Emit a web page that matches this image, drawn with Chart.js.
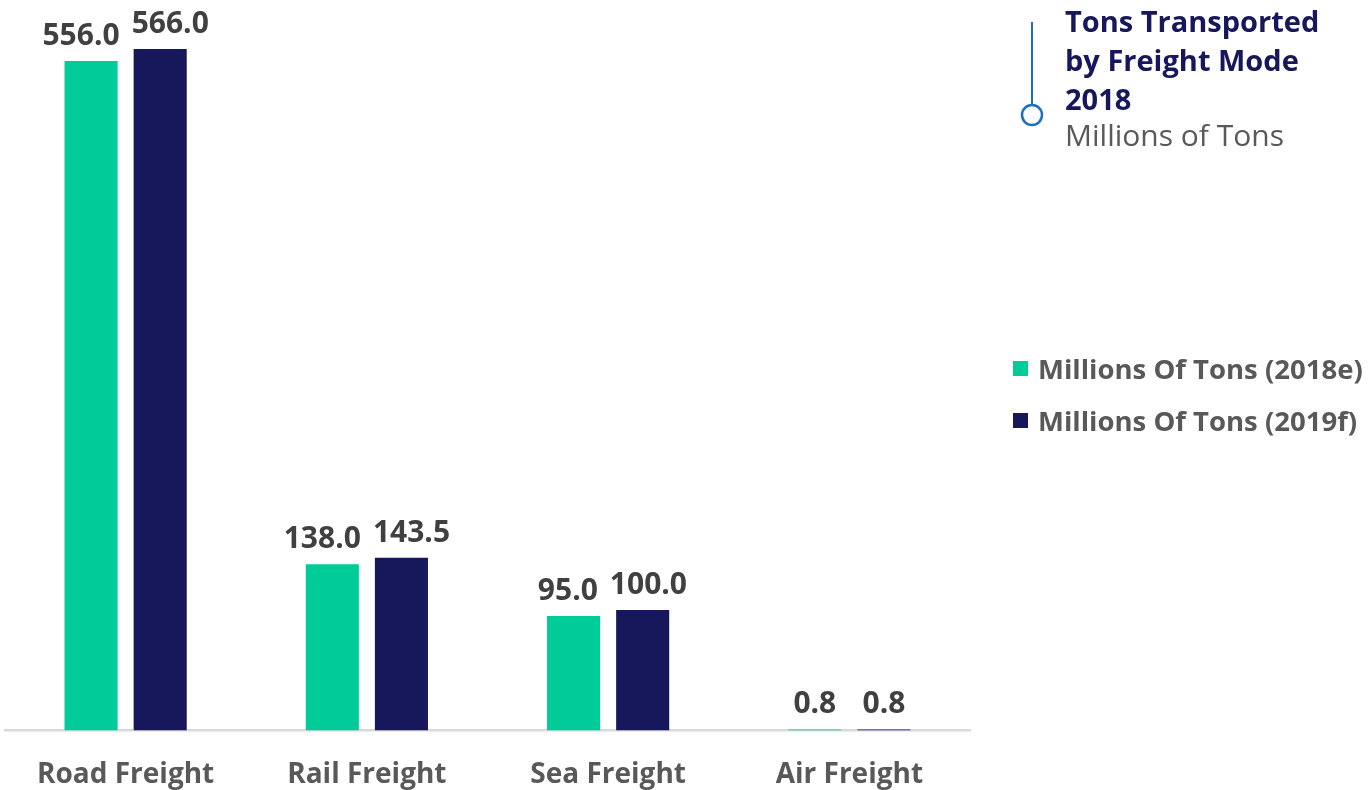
<!DOCTYPE html>
<html>
<head>
<meta charset="utf-8">
<script src="https://cdn.jsdelivr.net/npm/chart.js@4.4.1/dist/chart.umd.min.js"></script>
<style>
  html, body { margin: 0; padding: 0; background: #fff; }
  #wrap { position: relative; width: 1371px; height: 790px; }
  #freight { position: absolute; left: 0; top: 0; }
  .title-box { position: absolute; left: 1065px; top: 1px; font-family: "Open Sans", sans-serif; }
  .title-box .main { color: #17175b; font-weight: 700; font-size: 29px; line-height: 39px; }
  .title-box .sub { color: #595959; font-size: 30px; line-height: 34px; }
  .marker { position: absolute; left: 1020px; top: 22px; width: 24px; height: 106px; }
  #legend { position: absolute; left: 1013px; top: 342px; font-family: "Open Sans", sans-serif; }
  #legend div { display: flex; align-items: center; height: 52px; color: #595959; font-weight: 700; font-size: 27.5px; white-space: nowrap; }
  #legend span.sw { display: inline-block; width: 15px; height: 15px; margin-right: 10px; }
</style>
</head>
<body>
<div id="wrap">
  <canvas id="freight" width="1371" height="790"></canvas>
  <svg class="marker" viewBox="0 0 24 106">
    <line x1="12" y1="0" x2="12" y2="83" stroke="#1f6fbf" stroke-width="2"/>
    <circle cx="12" cy="93" r="10" fill="#fff" stroke="#1f6fbf" stroke-width="2.5"/>
  </svg>
  <div class="title-box">
    <div class="main">Tons Transported<br>by Freight Mode<br>2018</div>
    <div class="sub">Millions of Tons</div>
  </div>
  <div id="legend"></div>
</div>
<script>
const categories = ['Road Freight', 'Rail Freight', 'Sea Freight', 'Air Freight'];
const tons2018 = [556.0, 138.0, 95.0, 0.8];
const tons2019 = [566.0, 143.5, 100.0, 0.8];
const seriesNames = ['Millions Of Tons (2018e)', 'Millions Of Tons (2019f)'];
const seriesColors = ['#00cc99', '#17175b'];

// value labels above every bar; the pair in a group is pushed apart if they collide
const barValues = {
    id: 'barValues',
    afterDatasetsDraw(chart) {
        const ctx = chart.ctx;
        const gap = 12;
        ctx.save();
        ctx.font = 'bold 30px "Open Sans", sans-serif';
        ctx.fillStyle = '#404040';
        ctx.textAlign = 'center';
        ctx.textBaseline = 'alphabetic';
        const m0 = chart.getDatasetMeta(0).data;
        const m1 = chart.getDatasetMeta(1).data;
        chart.data.labels.forEach((_, j) => {
            const t0 = chart.data.datasets[0].data[j].toFixed(1);
            const t1 = chart.data.datasets[1].data[j].toFixed(1);
            const w0 = ctx.measureText(t0).width;
            const w1 = ctx.measureText(t1).width;
            let x0 = m0[j].x, x1 = m1[j].x;
            const overlap = (x0 + w0 / 2 + gap) - (x1 - w1 / 2);
            if (overlap > 0) {
                x0 -= overlap / 2;
                x1 += overlap / 2;
            }
            ctx.fillText(t0, x0, m0[j].y - 16);
            ctx.fillText(t1, x1, m1[j].y - 16);
        });
        ctx.restore();
    }
};

const chart = new Chart(document.getElementById('freight'), {
    type: 'bar',
    data: {
        labels: categories,
        datasets: [
            { label: seriesNames[0], data: tons2018, backgroundColor: seriesColors[0] },
            { label: seriesNames[1], data: tons2019, backgroundColor: seriesColors[1] }
        ]
    },
    options: {
        responsive: false,
        animation: false,
        categoryPercentage: 0.573,
        barPercentage: 0.768,
        layout: { padding: { left: 5, right: 401, top: 8, bottom: -30 } },
        plugins: { legend: { display: false }, tooltip: { enabled: false } },
        scales: {
            x: {
                grid: { display: false, drawTicks: false },
                border: { display: true, color: '#d9d9d9', width: 2.5 },
                ticks: {
                    color: '#595959',
                    padding: 28,
                    font: { family: '"Open Sans", sans-serif', size: 28, weight: 'bold' }
                }
            },
            y: { display: false, min: 0, max: 600 }
        }
    },
    plugins: [barValues]
});

// legend built from the datasets
const legend = document.getElementById('legend');
chart.data.datasets.forEach(ds => {
    const row = document.createElement('div');
    row.innerHTML = `<span class="sw" style="background:${ds.backgroundColor}"></span>${ds.label}`;
    legend.appendChild(row);
});
</script>
</body>
</html>
